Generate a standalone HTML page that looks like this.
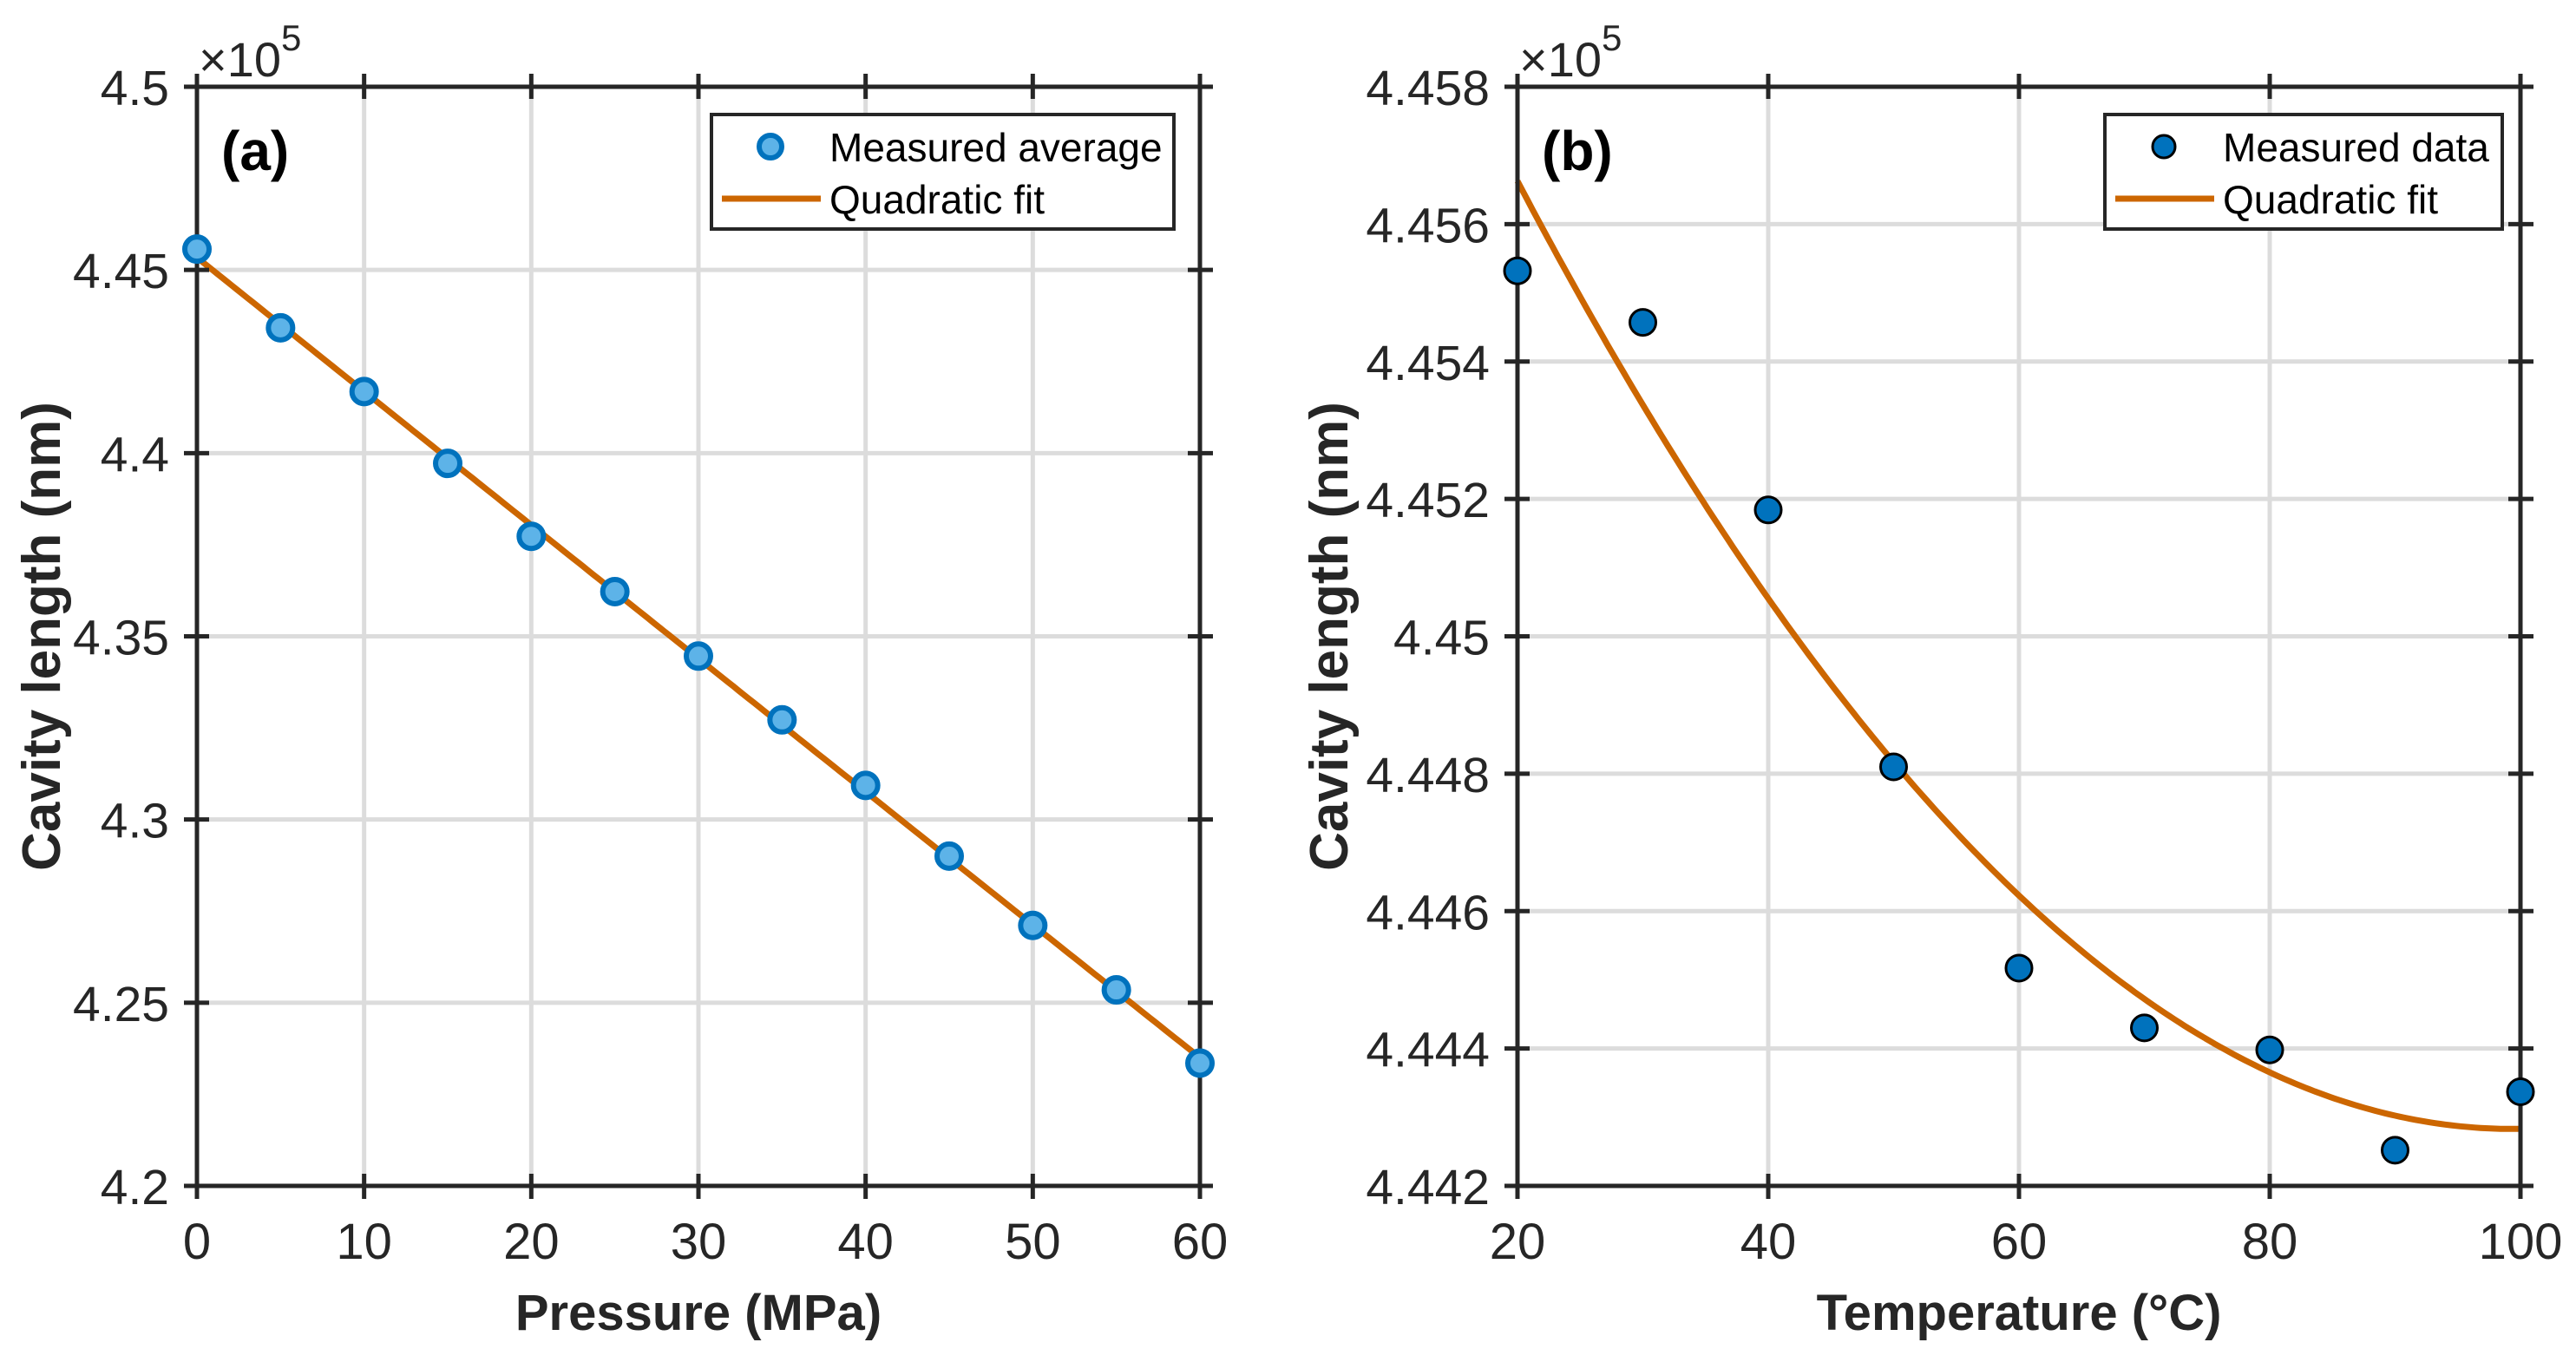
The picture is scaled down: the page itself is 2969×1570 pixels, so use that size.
<!DOCTYPE html>
<html><head><meta charset="utf-8"><style>
html,body{margin:0;padding:0;background:#fff}
svg{display:block}
text{font-family:"Liberation Sans",Arial,sans-serif;fill:#262626}
</style></head><body>
<svg id="fig" width="2969" height="1570" viewBox="0 0 2969 1570" xmlns="http://www.w3.org/2000/svg"></svg>
<script>
const pressureX=[0,5,10,15,20,25,30,35,40,45,50,55,60];
const pressureY=[4.4557,4.4342,4.4168,4.3972,4.3773,4.3622,4.3446,4.3272,4.3093,4.2900,4.2711,4.2535,4.2335];
const pressureXTicks=[0,10,20,30,40,50,60];
const pressureYTicks=[4.2,4.25,4.3,4.35,4.4,4.45,4.5];
const pressureYTickLabels=["4.2","4.25","4.3","4.35","4.4","4.45","4.5"];
const tempX=[20,30,40,50,60,70,80,90,100];
const tempY=[4.45532,4.45457,4.45184,4.44810,4.44517,4.44430,4.44398,4.44252,4.44337];
const tempXTicks=[20,40,60,80,100];
const tempYTicks=[4.442,4.444,4.446,4.448,4.45,4.452,4.454,4.456,4.458];
const tempYTickLabels=["4.442","4.444","4.446","4.448","4.45","4.452","4.454","4.456","4.458"];

const NS="http://www.w3.org/2000/svg";
const svg=document.getElementById('fig');
function mk(tag,attrs,parent){const e=document.createElementNS(NS,tag);for(const k in attrs)e.setAttribute(k,attrs[k]);(parent||svg).appendChild(e);return e;}
function quadFit(xs,ys){
  let n=xs.length,s=[0,0,0,0,0],t=[0,0,0];
  for(let i=0;i<n;i++){let x=xs[i],p=1;for(let k=0;k<5;k++){s[k]+=p;if(k<3)t[k]+=p*ys[i];p*=x;}}
  const A=[[s[0],s[1],s[2],t[0]],[s[1],s[2],s[3],t[1]],[s[2],s[3],s[4],t[2]]];
  for(let i=0;i<3;i++){for(let j=i+1;j<3;j++){const f=A[j][i]/A[i][i];for(let k=i;k<4;k++)A[j][k]-=f*A[i][k];}}
  const c=[0,0,0];for(let i=2;i>=0;i--){let v=A[i][3];for(let k=i+1;k<3;k++)v-=A[i][k]*c[k];c[i]=v/A[i][i];}
  return x=>c[0]+c[1]*x+c[2]*x*x;
}
function panel(o){
  const g=mk('g',{});
  
  
  const L=o.L,R=o.R,T=100,B=1367;
  const sx=v=>L+(v-o.xmin)/(o.xmax-o.xmin)*(R-L);
  const sy=v=>B-(v-o.ymin)/(o.ymax-o.ymin)*(B-T);
  mk('rect',{x:L,y:T,width:R-L,height:B-T,fill:'#fff'},g);
  o.xt.forEach(v=>{const l=mk('line',{x1:sx(v),x2:sx(v),y1:T,y2:B,stroke:'#dcdcdc','stroke-width':5},g);});
  o.yt.forEach(v=>{const l=mk('line',{x1:L,x2:R,y1:sy(v),y2:sy(v),stroke:'#dcdcdc','stroke-width':5},g);});
  const f=quadFit(o.xs,o.ys);let d='';
  for(let i=0;i<=200;i++){const x=o.xs[0]+(o.xs[o.xs.length-1]-o.xs[0])*i/200;d+=(i?'L':'M')+sx(x).toFixed(1)+','+sy(f(x)).toFixed(1);}
  const fl=mk('path',{d:d,fill:'none',stroke:'#CC6600','stroke-width':7},g);
  
  
  const bx=mk('rect',{x:L,y:T,width:R-L,height:B-T,fill:'none',stroke:'#262626','stroke-width':5},g);
  
  
  o.xt.forEach(v=>{
    mk('line',{x1:sx(v),x2:sx(v),y1:B-14,y2:B+15,stroke:'#262626','stroke-width':5},g);
    mk('line',{x1:sx(v),x2:sx(v),y1:T-15,y2:T+14,stroke:'#262626','stroke-width':5},g);
    const t=mk('text',{x:sx(v),y:B+84,'font-size':58,'text-anchor':'middle'},g);t.textContent=v;
    
    
  });
  o.yt.forEach((v,i)=>{
    mk('line',{x1:L-15,x2:L+14,y1:sy(v),y2:sy(v),stroke:'#262626','stroke-width':5},g);
    mk('line',{x1:R-14,x2:R+15,y1:sy(v),y2:sy(v),stroke:'#262626','stroke-width':5},g);
    const t=mk('text',{x:L-32,y:sy(v)+21,'font-size':57,'text-anchor':'end'},g);t.textContent=o.ytl[i];
    
    
  });
  o.xs.forEach((x,i)=>{const c=mk('circle',{cx:sx(x),cy:sy(o.ys[i]),r:o.r,fill:o.mfill,stroke:o.mstroke,'stroke-width':o.msw},g);
    
    });
  const ex=mk('text',{x:L+2,y:88,'font-size':56},g);ex.innerHTML='×10<tspan dy="-30" font-size="42">5</tspan>';
  
  
  const pl=mk('text',{x:L+28,y:196,'font-size':64,'font-weight':'bold',style:'fill:#000'},g);pl.textContent=o.tag;
  
  
  const xl=mk('text',{x:(L+R)/2,y:1533,'font-size':58,'font-weight':'bold','text-anchor':'middle'},g);xl.textContent=o.xlabel;
  
  
  const yl=mk('text',{x:0,y:0,'font-size':62,'font-weight':'bold','text-anchor':'middle',transform:`translate(${L-o.ylo},${(T+B)/2}) rotate(-90)`},g);yl.textContent='Cavity length (nm)';
  
  
  const lg=mk('g',{},g);
  
  
  mk('rect',{x:o.lgx,y:132,width:o.lgw,height:132,fill:'#fff',stroke:'#262626','stroke-width':4},lg);
  mk('circle',{cx:o.lgx+68,cy:169,r:13,fill:o.mfill,stroke:o.mstroke,'stroke-width':o.msw},lg);
  mk('line',{x1:o.lgx+12,x2:o.lgx+126,y1:229,y2:229,stroke:'#CC6600','stroke-width':7},lg);
  const t1=mk('text',{x:o.lgx+136,y:186,'font-size':46,style:'fill:#000'},lg);t1.textContent=o.leg1;
  
  
  const t2=mk('text',{x:o.lgx+136,y:246,'font-size':46,style:'fill:#000'},lg);t2.textContent='Quadratic fit';
  
  
}
panel({name:'pressure-panel',L:227,R:1383,xmin:0,xmax:60,ymin:4.2,ymax:4.5,xt:pressureXTicks,yt:pressureYTicks,ytl:pressureYTickLabels,
  xs:pressureX,ys:pressureY,r:14,mfill:'#5DB3E8',mstroke:'#0072BD',msw:6,tag:'(a)',xlabel:'Pressure (MPa)',leg1:'Measured average',lgx:820,lgw:533,ylo:158});
panel({name:'temperature-panel',L:1749,R:2905,xmin:20,xmax:100,ymin:4.442,ymax:4.458,xt:tempXTicks,yt:tempYTicks,ytl:tempYTickLabels,
  xs:tempX,ys:tempY,r:15,mfill:'#0072BD',mstroke:'#000',msw:3,tag:'(b)',xlabel:'Temperature (°C)',leg1:'Measured data',lgx:2426,lgw:458,ylo:196});
</script>
</body></html>
